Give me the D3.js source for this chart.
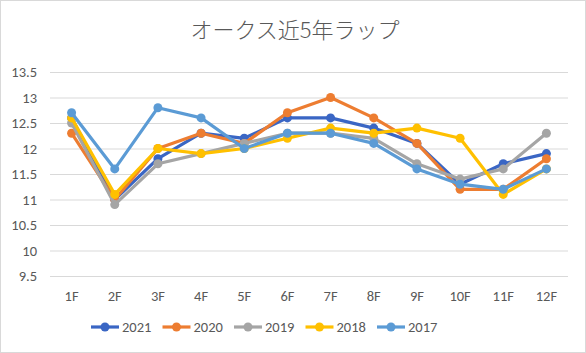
<!DOCTYPE html>
<html>
<head>
<meta charset="utf-8">
<script src="https://cdn.jsdelivr.net/npm/d3@7"></script>
<style>
  body { margin: 0; background: #fff; }
  text { font-family: Calibri, Carlito, "Open Sans", "Noto Sans CJK JP", sans-serif; }
</style>
</head>
<body>
<div id="chart"></div>
<script>
var furlongs = ["1F","2F","3F","4F","5F","6F","7F","8F","9F","10F","11F","12F"];
var years = ["2021","2020","2019","2018","2017"];
var colors = ["#3A66C4","#ED7D31","#A5A5A5","#FFC000","#5B9BD5"];
var yTicks = [9.5,10,10.5,11,11.5,12,12.5,13,13.5];

var lap2021 = [12.6,11.0,11.8,12.3,12.2,12.6,12.6,12.4,12.1,11.3,11.7,11.9];
var lap2020 = [12.3,11.0,12.0,12.3,12.1,12.7,13.0,12.6,12.1,11.2,11.2,11.8];
var lap2019 = [12.5,10.9,11.7,11.9,12.1,12.3,12.3,12.2,11.7,11.4,11.6,12.3];
var lap2018 = [12.6,11.1,12.0,11.9,12.0,12.2,12.4,12.3,12.4,12.2,11.1,11.6];
var lap2017 = [12.7,11.6,12.8,12.6,12.0,12.3,12.3,12.1,11.6,11.3,11.2,11.6];
var laps = [lap2021, lap2020, lap2019, lap2018, lap2017];

var width = 586, height = 353;
var svg = d3.select("#chart").append("svg")
    .attr("width", width)
    .attr("height", height);

// chart border
svg.append("rect")
    .attr("x", 0.5).attr("y", 0.5)
    .attr("width", width - 1).attr("height", height - 1)
    .attr("fill", "#fff")
    .attr("stroke", "#D9D9D9");

svg.append("text")
    .attr("x", 295).attr("y", 38)
    .attr("text-anchor", "middle")
    .attr("font-size", 22)
    .attr("fill", "#595959")
    .style("font-family", "'Noto Sans CJK JP', sans-serif")
    .style("font-weight", 300)
    .text("オークス近5年ラップ");

var x = d3.scaleBand()
    .domain(furlongs)
    .range([50, 568]);

var y = d3.scaleLinear()
    .domain([9.5, 13.5])
    .range([276, 72]);

// gridlines + y labels
var yAxis = svg.append("g")
    .attr("transform", "translate(50,0)")
    .call(d3.axisLeft(y).tickValues(yTicks).tickSize(-518).tickPadding(13)
        .tickFormat(function(d) { return d; }));
yAxis.select(".domain").remove();
yAxis.selectAll("line").attr("stroke", "#D9D9D9").attr("stroke-width", 1);
yAxis.selectAll("text").attr("fill", "#595959").attr("font-size", 14.5);

var xAxis = svg.append("g")
    .attr("transform", "translate(0,276)")
    .call(d3.axisBottom(x).tickSize(0).tickPadding(15));
xAxis.select(".domain").remove();
xAxis.selectAll("text").attr("fill", "#595959").attr("font-size", 14.5);

svg.selectAll(".tick text")
    .attr("font-family", null)
    .style("font-family", "Calibri, Carlito, 'Open Sans', sans-serif");

var line = d3.line()
    .x(function(d, i) { return x(furlongs[i]) + x.bandwidth() / 2; })
    .y(function(d) { return y(d); });

laps.forEach(function(s, k) {
    var g = svg.append("g");
    g.append("path")
        .datum(s)
        .attr("d", line)
        .attr("fill", "none")
        .attr("stroke", colors[k])
        .attr("stroke-width", 3.2)
        .attr("stroke-linejoin", "round");
    g.selectAll("circle")
        .data(s)
        .enter()
        .append("circle")
        .attr("cx", function(d, i) { return x(furlongs[i]) + x.bandwidth() / 2; })
        .attr("cy", function(d) { return y(d); })
        .attr("r", 4.5)
        .attr("fill", colors[k]);
});

// legend
var legend = svg.selectAll(".legend")
    .data(years)
    .enter().append("g")
    .attr("class", "legend")
    .attr("transform", function(d, i) { return "translate(" + (91 + i * 71.5) + ",327)"; });

legend.append("line")
    .attr("x1", 0).attr("x2", 28)
    .attr("stroke", function(d, i) { return colors[i]; })
    .attr("stroke-width", 3.2);
legend.append("circle")
    .attr("cx", 14).attr("r", 4.5)
    .attr("fill", function(d, i) { return colors[i]; });
legend.append("text")
    .attr("x", 31).attr("y", 5)
    .attr("font-size", 14.5)
    .attr("fill", "#595959")
    .text(function(d) { return d; });
</script>
</body>
</html>
